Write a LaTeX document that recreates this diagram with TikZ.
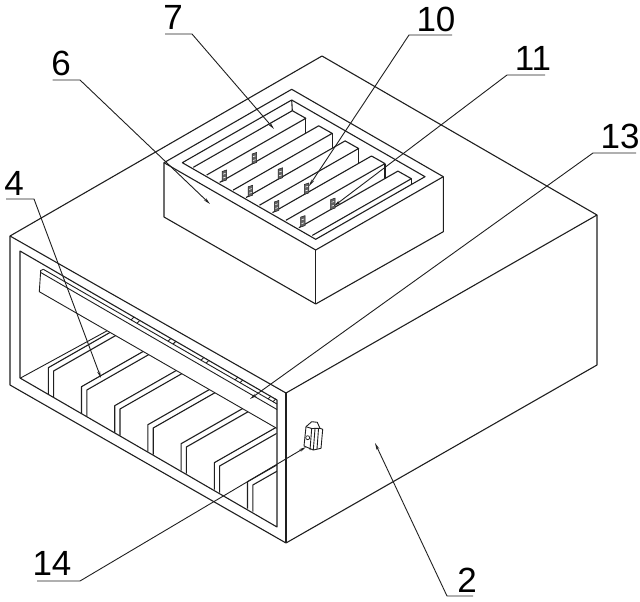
\documentclass[tikz,border=0pt]{standalone}
\usepackage{fontspec}
\setmainfont{Liberation Sans}
\usetikzlibrary{arrows.meta}
\definecolor{ink}{gray}{0.12}
\tikzset{
  edge/.style={draw=ink, line width=1.1pt, line join=round},
  thinedge/.style={draw=ink, line width=0.9pt},
  leader/.style={draw=ink, line width=0.9pt, -{Stealth[length=7pt,width=3pt]}},
  numlabel/.style={inner sep=0pt, text=black, font=\fontsize{35}{35}\selectfont},
  tagmark/.style={fill=ink!70, draw=ink, line width=0.5pt},
  tagslit/.style={draw=white, line width=0.6pt}
}
\begin{document}
\begin{tikzpicture}[x=1pt,y=-1pt]
  \useasboundingbox (0,0) rectangle (640,602);

  % Outer housing
  \draw[edge] (10,236) -- (322,56) -- (597,215) -- (597,365) -- (286,543) -- (10,385) -- cycle;
  \draw[edge] (10,236) -- (286,393) -- (597,215);
  \draw[edge] (286,393) -- (286,543);
  \draw[edge] (20,251) -- (277,400) -- (277,527) -- (20,378) -- cycle;

  % Rail under the top of the opening
  \draw[thinedge] (43.3,269.3) -- (277,404);
  \draw[thinedge] (43.3,269.3) -- (40.7,270.5) -- (39.3,291.7) -- (276.7,428.3);
  \draw[thinedge] (40.7,272.5) -- (277,409.5);
  \foreach \x in {131,137,168,173,201,206,235,240,268,273}
    \draw[thinedge] (\x,{244.3+.577*\x}) -- ++(3,-3);

  % Fins on the floor, cut off by the rail
  \begin{scope}
    \clip (20,280.6) -- (276.7,428.3) -- (277,527) -- (20,378) -- cycle;
    \draw[thinedge] (20,378.3) -- (130,318.3);
    \foreach \i in {0,...,6} {
      \begin{scope}[shift={(33.2*\i,19*\i)}]
        \draw[edge] (48.3,394.7) -- (48.3,367.7) -- ++(70,-40);
        \draw[edge] (53.6,397.7) -- (53.6,371) -- ++(70,-40);
      \end{scope}
    }
  \end{scope}

  % Box on top
  \draw[edge, fill=white] (164,162.7) -- (291.7,89.3) -- (443.3,176.7) -- (443.3,231.7) -- (315.7,304) -- (164,217) -- cycle;
  \draw[edge] (164,162.7) -- (315.7,250) -- (443.3,176.7);
  \draw[edge] (315.7,250) -- (315.7,304);
  \draw[edge] (182.3,162.7) -- (291.7,100) -- (425,176.7) -- (315.7,239.3) -- cycle;
  \draw[edge] (291.7,100) -- (292.3,110.7);

  % Ribs in the box
  \foreach \i/\h in {0/15,1/15,2/15,3/15,4/6} {
    \begin{scope}[shift={(26.4*\i,15.1*\i)}]
      \draw[edge] (193.3,167.3) -- (292.3,110.7) -- (305.8,118.3) -- (206.7,175);
      \draw[edge] (305.8,118.3) -- ++(0,\h);
    \end{scope}
  }
  \foreach \i in {0,...,3} {
    \begin{scope}[shift={(26.2*\i,15.2*\i)}]
      \draw[tagmark] (222,171.5) -- (226.5,170) -- (226.5,180) -- (222,181.5) -- cycle;
      \draw[tagslit] (223,174.2) -- (225.5,173.4) (223,178) -- (225.5,177.2);
      \draw[tagmark] (252,154) -- (256.5,152.5) -- (256.5,162.5) -- (252,164) -- cycle;
      \draw[tagslit] (253,156.7) -- (255.5,155.9) (253,160.5) -- (255.5,159.7);
    \end{scope}
  }

  % Small switch on the side
  \draw[thinedge, fill=white] (306,426.7) -- (311.7,421.7) -- (317.3,422.3) -- (320,428.3) -- (322.7,429.3)
    -- (321,448.3) -- (313.3,450) -- (304,446) -- cycle;
  \draw[thinedge] (306,426.7) -- (311.7,428.5) -- (310,450);
  \draw[thinedge] (311.7,428.5) -- (320,428.3);
  \draw[thinedge] (315,429) -- (313.3,450);
  \draw[thinedge] (318.5,429) -- (317,449);
  \node[draw=ink, circle, line width=0.7pt, inner sep=0pt, minimum size=4pt] (switchhole) at (307.7,437.7) {};

  % Numbers and their leaders
  \foreach \lab/\lx/\ly/\ax/\bx/\by/\tx/\ty in {
      6/61/63/52.7/80/80/210/204,
      7/173/17/165/192/34/274/129,
      10/436/19/452/409/35/309/186,
      11/533/58/545/507/75/334/206,
      13/620/136/636/593/153/250/399,
      4/14/183/6/34/199/101/378,
      14/52/563/37/80/581/306/447,
      2/467/580/473/447/596/375/443} {
    \node[numlabel] (lab\lab) at (\lx,\ly) {\lab};
    \coordinate (start\lab) at (\ax,\by);
    \coordinate (knee\lab) at (\bx,\by);
    \coordinate (tip\lab) at (\tx,\ty);
    \draw[leader] (start\lab) -- (knee\lab) -- (tip\lab);
  }
\end{tikzpicture}
\end{document}
